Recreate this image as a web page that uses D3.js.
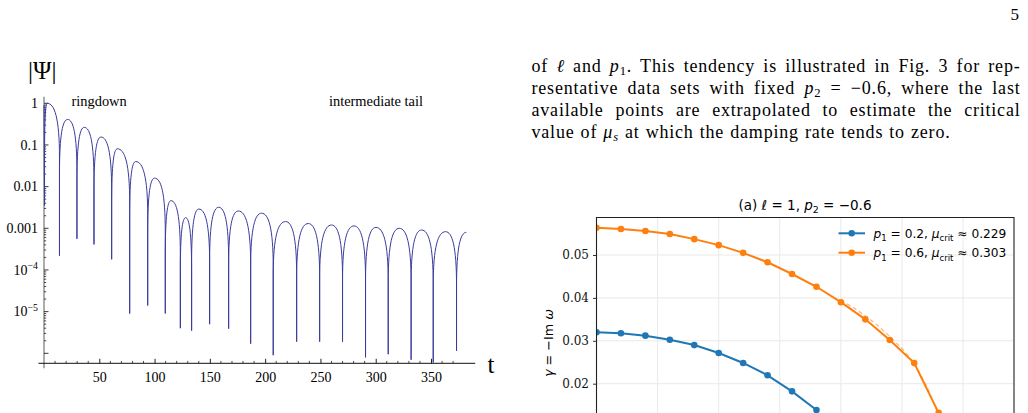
<!DOCTYPE html>
<html>
<head>
<meta charset="utf-8">
<script src="https://cdn.jsdelivr.net/npm/d3@7"></script>
<style>
body { margin: 0; background: #fff; }
svg { display: block; }
</style>
</head>
<body>
<svg width="1028" height="413"></svg>
<script>
const svg = d3.select("svg")

// ---- left panel: |Psi|(t), zeros (dips) and lobe maxima
const nodeT = [0.5, 14.0, 29.8, 45.2, 61.2, 77.5, 93.8, 109.7, 123.3, 133.5, 149.8, 167.0, 186.9, 207.3, 228.5, 249.3, 270.0, 290.8, 311.3, 332.0, 352.0, 373.1]
const nodeV = [3.5e-3, 2.2e-4, 5.6e-4, 4.1e-4, 1.8e-4, 9e-6, 1.4e-5, 9e-6, 4e-6, 3.5e-6, 5e-6, 3.9e-6, 1.7e-6, 9e-7, 1.9e-6, 1.9e-6, 1.9e-6, 8e-7, 9.5e-7, 7e-7, 6e-7, 1.15e-6]
const peakT = [2.8, 21.4, 36.4, 51.5, 66.3, 82.9, 100.0, 114.8, 128.1, 140.0, 158.0, 175.7, 196.8, 218.5, 239.0, 260.0, 280.3, 300.2, 321.3, 341.5, 363.2]
const peakV = [1.0, 0.41, 0.265, 0.155, 0.081, 0.040, 0.016, 0.0046, 0.0018, 0.0029, 0.0032, 0.0026, 0.0023, 0.00145, 0.0013, 0.0012, 0.00114, 0.00105, 0.0010, 0.00091, 0.00083]
const startPt = [0, 0.9]
const endPt = [382, 0.0008]
const psiTicks = [1, 0.1, 0.01, 0.001, 1e-4, 1e-5, 1e-6]
const psiTickLabels = [["1"], ["0.1"], ["0.01"], ["0.001"], ["10", "\u22124"], ["10", "\u22125"], []]
const tTicks = [50, 100, 150, 200, 250, 300, 350]

// ---- right panel: damping rate vs mu_s
const mu = [0, 0.02, 0.04, 0.06, 0.08, 0.10, 0.12, 0.14, 0.16, 0.18, 0.20, 0.22, 0.24, 0.26, 0.28]
const gammaP02 = [0.0320, 0.03175, 0.0312, 0.03026, 0.0290, 0.02716, 0.02483, 0.02196, 0.01822, 0.01387]
const gammaP06 = [0.05636, 0.05606, 0.0556, 0.0549, 0.0537, 0.0523, 0.0505, 0.0483, 0.04557, 0.0426, 0.0390, 0.0350, 0.0302, 0.0248, 0.0132]
const extraMu = [0.20, 0.21, 0.22, 0.23, 0.24, 0.25, 0.26, 0.27, 0.28]
const extraP06 = [0.0394, 0.0378, 0.0358, 0.0336, 0.0310, 0.0282, 0.0249, 0.0195, 0.0127]
const gammaTicks = [0.02, 0.03, 0.04, 0.05]
const muGrid = [0.05, 0.10, 0.15, 0.20, 0.25, 0.30]
const legendLabels = [
    [["p", "i"], ["1", "sub"], [" = 0.2, ", "r"], ["\u03bc", "i"], ["crit", "sub"], [" \u2248 0.229", "r"]],
    [["p", "i"], ["1", "sub"], [" = 0.6, ", "r"], ["\u03bc", "i"], ["crit", "sub"], [" \u2248 0.303", "r"]]
]

// ---- paper text on the right
const bodyLines = [
    [["of ", "r"], ["\u2113", "i"], [" and ", "r"], ["p", "i"], ["1", "sub"], [". This tendency is illustrated in Fig. 3 for rep-", "r"]],
    [["resentative data sets with fixed ", "r"], ["p", "i"], ["2", "sub"], [" = \u22120.6, where the last", "r"]],
    [["available points are extrapolated to estimate the critical", "r"]],
    [["value of ", "r"], ["\u03bc", "i"], ["s", "isub"], [" at which the damping rate tends to zero.", "r"]]
]
const bodyWidths = [489, 489, 489, 419]

const SERIF = "'Liberation Serif', 'Times New Roman', serif"
const SANS = "'DejaVu Sans', sans-serif"

// text with italic / sub / sup pieces
function richText(g, x, y, segs, size, family, subDrop = 0.28) {
    const t = g.append("text").attr("x", x).attr("y", y)
        .attr("font-family", family).attr("font-size", size).attr("fill", "#000")
    let shift = 0
    for (const [s, st] of segs) {
        const ts = t.append("tspan").text(s)
        if (st.includes("i")) ts.attr("font-style", "italic")
        const small = st.includes("sub") || st.includes("sup")
        const want = st.includes("sub") ? size * subDrop : st.includes("sup") ? -size * 0.42 : 0
        if (want !== shift) { ts.attr("dy", want - shift); shift = want }
        if (small) ts.attr("font-size", size * 0.7)
    }
    return t
}

function justify(t, width) {
    const natural = t.node().getComputedTextLength()
    const spaces = (t.text().match(/ /g) || []).length
    if (spaces) t.style("word-spacing", ((width - natural) / spaces) + "px")
}

// ================= left panel =================
const psiX = d3.scaleLinear().domain([0, 350]).range([44, 431])
const psiY = d3.scaleLog().domain([1, 1e-6]).range([103.3, 353.3])
const dec = psiY(0.1) - psiY(1)
const left = svg.append("g")

// rising half of a lobe: near-vertical from the dip, then a round top
function rise(p, xa, ya, xp, yp) {
    const ys = Math.min(ya, yp + 1.3 * dec)
    p.lineTo(xa, ys)
    p.bezierCurveTo(xa, yp + 0.35 * (ys - yp) / 1.3, xa + 0.4 * (xp - xa), yp, xp, yp)
}
function fall(p, xp, yp, xb, yb) {
    const ys = Math.min(yb, yp + 1.3 * dec)
    p.bezierCurveTo(xb - 0.4 * (xb - xp), yp, xb, yp + 0.35 * (ys - yp) / 1.3, xb, ys)
    p.lineTo(xb, yb)
}

function psiPath() {
    const p = d3.path()
    p.moveTo(psiX(startPt[0]), psiY(startPt[1]))
    p.lineTo(psiX(nodeT[0]), psiY(nodeV[0]))
    for (let i = 0; i < peakT.length; i++) {
        rise(p, psiX(nodeT[i]), psiY(nodeV[i]), psiX(peakT[i]), psiY(peakV[i]))
        fall(p, psiX(peakT[i]), psiY(peakV[i]), psiX(nodeT[i + 1]), psiY(nodeV[i + 1]))
    }
    const last = nodeT.length - 1
    rise(p, psiX(nodeT[last]), psiY(nodeV[last]), psiX(endPt[0]), psiY(endPt[1]))
    return p.toString()
}

const axisY0 = psiY(1e-6) + 10  // x axis position

// y axis line
left.append("line")
    .attr("x1", psiX(0)).attr("x2", psiX(0))
    .attr("y1", psiY(1.44)).attr("y2", axisY0 + 5)
    .attr("stroke", "#8a8a8a").attr("stroke-width", 1.4)

// minor log ticks
const minor = []
for (const d of psiTicks) for (let k = 2; k <= 9; k++) if (k * d < 1.44) minor.push(k * d)
left.append("g").selectAll("line").data(minor).enter().append("line")
    .attr("x1", psiX(0)).attr("x2", psiX(0) + 2.2)
    .attr("y1", d => psiY(d)).attr("y2", d => psiY(d))
    .attr("stroke", "#222").attr("stroke-width", 0.8)
left.append("g").selectAll("line").data(psiTicks).enter().append("line")
    .attr("x1", psiX(0)).attr("x2", psiX(0) + 4.5)
    .attr("y1", d => psiY(d)).attr("y2", d => psiY(d))
    .attr("stroke", "#222").attr("stroke-width", 0.9)

psiTicks.forEach((v, i) => {
    const lab = psiTickLabels[i]
    if (!lab.length) return
    const segs = lab.length === 1 ? [[lab[0], "r"]] : [[lab[0], "r"], [lab[1], "sup"]]
    richText(left, 38, psiY(v) + 4.8, segs, 14, SERIF).attr("text-anchor", "end")
})

// x axis
const xAxis = d3.axisBottom(psiX).tickValues(tTicks).tickSize(-4.5).tickSizeOuter(0).tickPadding(9)
const gx = left.append("g").attr("transform", `translate(0,${axisY0})`).call(xAxis)
gx.select(".domain").remove()
gx.selectAll("text").attr("font-family", SERIF).attr("font-size", 14).attr("fill", "#000")
gx.selectAll(".tick line").attr("stroke", "#222")
const minorT = d3.range(10, 380, 10).filter(d => d % 50 !== 0)
left.append("g").selectAll("line").data(minorT).enter().append("line")
    .attr("x1", d => psiX(d)).attr("x2", d => psiX(d))
    .attr("y1", axisY0).attr("y2", axisY0 - 2.4)
    .attr("stroke", "#222").attr("stroke-width", 0.8)
left.append("line")
    .attr("x1", psiX(-5)).attr("x2", psiX(390))
    .attr("y1", axisY0).attr("y2", axisY0)
    .attr("stroke", "#111").attr("stroke-width", 1)

left.append("path")
    .attr("d", psiPath())
    .attr("fill", "none")
    .attr("stroke", "#3b3b9e")
    .attr("stroke-width", 1)

left.append("text").attr("x", 28).attr("y", 79).attr("font-family", SERIF).attr("font-size", 25).text("|\u03a8|")
left.append("text").attr("x", 487.5).attr("y", 373).attr("font-family", SERIF).attr("font-size", 25).text("t")
left.append("text").attr("x", 71.5).attr("y", 106).attr("font-family", SERIF).attr("font-size", 14.4).text("ringdown")
left.append("text").attr("x", 329).attr("y", 106).attr("font-family", SERIF).attr("font-size", 14.4).text("intermediate tail")

// ================= page text =================
svg.append("text").attr("x", 1019).attr("y", 20).attr("text-anchor", "end")
    .attr("font-family", SERIF).attr("font-size", 17).text("5")
bodyLines.forEach((segs, i) => {
    const t = richText(svg, 531.5, 72 + i * 22, segs, 18, SERIF, 0.17)
        .style("letter-spacing", "0.8px")
    justify(t, bodyWidths[i])
})

// ================= right panel =================
const axL = 596.5, axR = 1014, axT = 217.5, axB = 470
const muX = d3.scaleLinear().domain([0, 0.30]).range([axL, axL + 0.30 * 1222])
const gamY = d3.scaleLinear().domain([0.02, 0.05]).range([383.7, 255])
const right = svg.append("g")

right.append("clipPath").attr("id", "clipR").append("rect")
    .attr("x", axL).attr("y", axT).attr("width", axR - axL).attr("height", axB - axT)

// grid
right.append("g").selectAll("line").data(muGrid).enter().append("line")
    .attr("x1", d => muX(d)).attr("x2", d => muX(d)).attr("y1", axT).attr("y2", axB)
    .attr("stroke", "#e9e9e9").attr("stroke-width", 1)
right.append("g").selectAll("line").data(gammaTicks).enter().append("line")
    .attr("x1", axL).attr("x2", axR).attr("y1", d => gamY(d)).attr("y2", d => gamY(d))
    .attr("stroke", "#e9e9e9").attr("stroke-width", 1)

const yAxis = d3.axisLeft(gamY).tickValues(gammaTicks).tickFormat(d3.format(".2f")).tickSize(3.5).tickPadding(4)
const gy = right.append("g").attr("transform", `translate(${axL},0)`).call(yAxis)
gy.select(".domain").remove()
gy.selectAll("text").attr("font-family", "'DejaVu Serif', serif").attr("font-size", 12).attr("fill", "#111")
gy.selectAll(".tick line").attr("stroke", "#333")

const line = d3.line().x(d => muX(d[0])).y(d => gamY(d[1]))
const plot = right.append("g").attr("clip-path", "url(#clipR)")
const series = [
    { color: "#1f77b4", pts: gammaP02.map((g, i) => [mu[i], g]) },
    { color: "#ff7f0e", pts: gammaP06.map((g, i) => [mu[i], g]) }
]
series.forEach(s => {
    plot.append("path").attr("d", line(s.pts)).attr("fill", "none")
        .attr("stroke", s.color).attr("stroke-width", 2)
    plot.append("g").selectAll("circle").data(s.pts).enter().append("circle")
        .attr("cx", d => muX(d[0])).attr("cy", d => gamY(d[1])).attr("r", 3.3)
        .attr("fill", s.color)
})
// extrapolation of the last points (dashed, drawn on top)
plot.append("path").attr("d", line(extraP06.map((g, i) => [extraMu[i], g])))
    .attr("fill", "none").attr("stroke", "#ff7f0e").attr("stroke-width", 1.3)
    .attr("stroke-dasharray", "4,3").attr("opacity", 0.55)

// spines
right.append("path")
    .attr("d", `M${axL},${axB}V${axT}H${axR}V${axB}`)
    .attr("fill", "none").attr("stroke", "#222").attr("stroke-width", 1.1)

// legend
series.forEach((s, i) => {
    const y = 233.3 + i * 19.4
    right.append("line").attr("x1", 838.5).attr("x2", 865).attr("y1", y).attr("y2", y)
        .attr("stroke", s.color).attr("stroke-width", 2)
    right.append("circle").attr("cx", 851.7).attr("cy", y).attr("r", 3.3).attr("fill", s.color)
    richText(right, 873.5, y + 4.5, legendLabels[i], 12.2, SANS)
})

// title and y label
richText(right, 805, 209.5, [["(a) ", "r"], ["\u2113", "i"], [" = 1, ", "r"], ["p", "i"], ["2", "sub"], [" = \u22120.6", "r"]], 13.5, SANS)
    .attr("text-anchor", "middle")
richText(right, 0, 0, [["\u03b3", "i"], [" = \u2212Im ", "r"], ["\u03c9", "i"]], 12.8, SANS)
    .attr("text-anchor", "middle")
    .attr("transform", "translate(553,343) rotate(-90)")
</script>
</body>
</html>
